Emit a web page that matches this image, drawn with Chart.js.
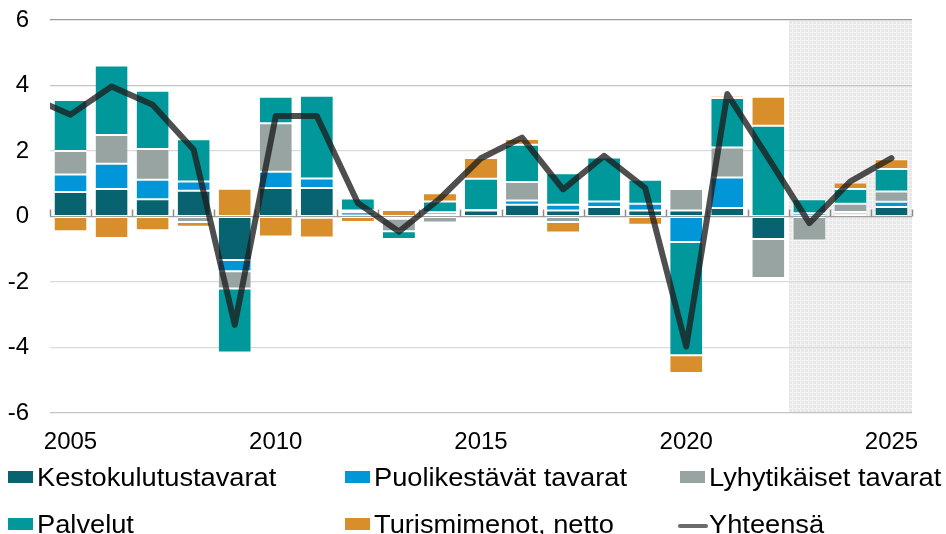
<!DOCTYPE html>
<html>
<head>
<meta charset="utf-8">
<script src="https://cdn.jsdelivr.net/npm/chart.js@4"></script>
<style>
  body { margin: 0; background: #fff; }
  #wrap { position: relative; width: 946px; height: 534px; overflow: hidden; }
  .box { position: absolute; width: 25px; height: 12px; }
  .txt { position: absolute; font: 25px "Liberation Sans", Arial, sans-serif; line-height: 30px;
         color: #000; white-space: nowrap; transform: scaleX(1.09); transform-origin: left top; }
  .ln { position: absolute; width: 30px; height: 4px; border-radius: 2px; background: #6b6b6b; }
</style>
</head>
<body>
<div id="wrap">
  <canvas id="chart" width="946" height="534"></canvas>
</div>
<script>
// vuodet ja osatekijät (%-yks.)
const years = [2005, 2006, 2007, 2008, 2009, 2010, 2011, 2012, 2013, 2014, 2015,
               2016, 2017, 2018, 2019, 2020, 2021, 2022, 2023, 2024, 2025];
const kesto    = [0.75, 0.84, 0.53, 0.79, -1.33, 0.87, 0.87, 0.03, -0.05, 0.05, 0.18,
                  0.36, 0.18, 0.29, 0.18, 0.18, 0.26, -0.69, 0.02, 0.07, 0.29];
const puoli    = [0.53, 0.77, 0.59, 0.28, -0.34, 0.50, 0.29, 0.10, -0.02, 0.08, 0.02,
                  0.13, 0.18, 0.17, 0.21, -0.78, 0.93, 0.00, 0.08, 0.07, 0.16];
const lyhyt    = [0.72, 0.88, 0.94, -0.17, -0.53, 1.48, -0.04, 0.05, -0.38, -0.18, 0.00,
                  0.56, -0.17, 0.00, 0.00, 0.66, 0.92, -1.19, -0.73, 0.25, 0.31];
const palvelut = [1.56, 2.12, 1.78, 1.29, -1.95, 0.81, 2.53, 0.37, -0.24, 0.33, 0.95,
                  1.14, 0.96, 1.34, 0.73, -3.46, 1.51, 2.77, 0.43, 0.45, 0.69];
const turismi  = [-0.45, -0.66, -0.42, -0.14, 0.85, -0.61, -0.60, -0.17, 0.20, 0.25, 0.64,
                  0.18, -0.32, 0.00, -0.25, -0.54, 0.07, 0.89, 0.00, 0.20, 0.30];
const yhteensa = [3.11, 3.97, 3.41, 2.04, -3.31, 3.07, 3.07, 0.41, -0.46, 0.55, 1.78,
                  2.41, 0.83, 1.85, 0.87, -3.97, 3.74, 1.78, -0.20, 1.07, 1.78];
const alkuVuosi = 2004, alkuArvo = 3.65;   // viivan alku näkyy vasemmassa reunassa
const ennusteAlku = 2023;
const yTicks = [-6, -4, -2, 0, 2, 4, 6];

const colors = {
  kesto: "#07636f", puoli: "#0096d8", lyhyt: "#98a4a2",
  palvelut: "#00989b", turismi: "#d88e2a", yht: "rgba(30,30,30,0.78)"
};

// akselilla on myös 2004, mutta näkyvä alue alkaa 2005:stä
const labels = [alkuVuosi].concat(years).map(String);
const withStart = (arr) => [null].concat(arr);

// harmaa ennustealue
const tile = document.createElement("canvas");
tile.width = 4; tile.height = 4;
const tc = tile.getContext("2d");
tc.fillStyle = "#e8e8e8"; tc.fillRect(0, 0, 4, 4);
tc.fillStyle = "#f3f3f3"; tc.fillRect(0, 0, 4, 1); tc.fillRect(0, 0, 1, 4);

const shadePlugin = {
  id: "shade",
  beforeDraw(chart) {
    const { ctx, chartArea: a } = chart;
    const step = (a.right - a.left) / years.length;
    const x0 = a.left + years.indexOf(ennusteAlku) * step;
    ctx.save();
    ctx.fillStyle = ctx.createPattern(tile, "repeat");
    ctx.fillRect(x0, a.top, a.right - x0, a.bottom - a.top);
    ctx.restore();
  },
  beforeDatasetsDraw(chart) {
    const { ctx, chartArea: a, scales } = chart;
    const y0 = scales.y.getPixelForValue(0);
    const step = (a.right - a.left) / years.length;
    ctx.save();
    ctx.strokeStyle = "#8c8c8c";
    ctx.lineWidth = 1.5;
    for (let i = 0; i <= years.length; i++) {
      const x = Math.round(a.left + i * step) + 0.5;
      ctx.beginPath();
      ctx.moveTo(x, y0 - 7);
      ctx.lineTo(x, y0);
      ctx.stroke();
    }
    ctx.restore();
  }
};

const barDs = (label, data, color) => ({
  label, data: withStart(data), backgroundColor: color, borderColor: "#fff",
  borderWidth: { top: 1, bottom: 1, left: 0, right: 0 }, borderSkipped: false,
  grouped: false, barPercentage: 0.78, categoryPercentage: 1, order: 1
});

const gridColor = (ctx) => {
  const v = ctx.tick && ctx.tick.value;
  if (v === 6) return "#9a9a9a";
  if (v === 0) return "#a0a0a0";
  if (v === 4 || v === -6) return "#c4c4c4";
  return "#dadada";
};

new Chart(document.getElementById("chart"), {
  type: "bar",
  data: {
    labels: labels,
    datasets: [
      {
        type: "line", label: "Yhteensä", data: [alkuArvo].concat(yhteensa),
        borderColor: colors.yht, borderWidth: 6, pointRadius: 0, tension: 0,
        borderJoinStyle: "round", borderCapStyle: "round", clip: 0, order: 0
      },
      barDs("Kestokulutustavarat", kesto, colors.kesto),
      barDs("Puolikestävät tavarat", puoli, colors.puoli),
      barDs("Lyhytikäiset tavarat", lyhyt, colors.lyhyt),
      barDs("Palvelut", palvelut, colors.palvelut),
      barDs("Turismimenot, netto", turismi, colors.turismi)
    ]
  },
  options: {
    responsive: false,
    animation: false,
    layout: { padding: { top: 20, right: 34, left: 0, bottom: 0 } },
    plugins: { legend: { display: false }, tooltip: { enabled: false } },
    scales: {
      x: {
        stacked: true,
        min: String(years[0]),
        grid: { display: false },
        border: { display: false },
        afterFit: (s) => { s.height = 121; s.paddingLeft = 0; s.paddingRight = 0; },
        ticks: {
          autoSkip: false, maxRotation: 0, padding: 7, color: "#000",
          font: { family: "Liberation Sans", size: 24 },
          callback: (v) => (Number(labels[v]) % 5 === 0 ? labels[v] : "")
        }
      },
      y: {
        stacked: true, min: -6, max: 6,
        afterFit: (s) => { s.width = 50; s.paddingTop = 0; s.paddingBottom = 0; },
        border: { display: false },
        grid: { color: gridColor, lineWidth: 1.2, drawTicks: false },
        afterBuildTicks: (s) => { s.ticks = yTicks.map(v => ({ value: v })); },
        ticks: {
          padding: 21, color: "#000",
          font: { family: "Liberation Sans", size: 24 },
          callback: (v) => String(v)
        }
      }
    }
  },
  plugins: [shadePlugin]
});

// selite
const legendItems = [
  { text: "Kestokulutustavarat", color: colors.kesto, col: 0, row: 0 },
  { text: "Puolikestävät tavarat", color: colors.puoli, col: 1, row: 0 },
  { text: "Lyhytikäiset tavarat", color: colors.lyhyt, col: 2, row: 0 },
  { text: "Palvelut", color: colors.palvelut, col: 0, row: 1 },
  { text: "Turismimenot, netto", color: colors.turismi, col: 1, row: 1 },
  { text: "Yhteensä", line: true, col: 2, row: 1 }
];
const colX = [8, 345, 680];
const wrap = document.getElementById("wrap");
legendItems.forEach(it => {
  const top = 462 + it.row * 47;
  const mark = document.createElement("div");
  if (it.line) {
    mark.className = "ln";
    mark.style.left = (colX[it.col] - 2) + "px";
    mark.style.top = (top + 15) + "px";
  } else {
    mark.className = "box";
    mark.style.background = it.color;
    mark.style.left = colX[it.col] + "px";
    mark.style.top = (top + 9) + "px";
  }
  wrap.appendChild(mark);
  const t = document.createElement("div");
  t.className = "txt";
  t.textContent = it.text;
  t.style.left = (colX[it.col] + 29) + "px";
  t.style.top = top + "px";
  wrap.appendChild(t);
});
</script>
</body>
</html>
